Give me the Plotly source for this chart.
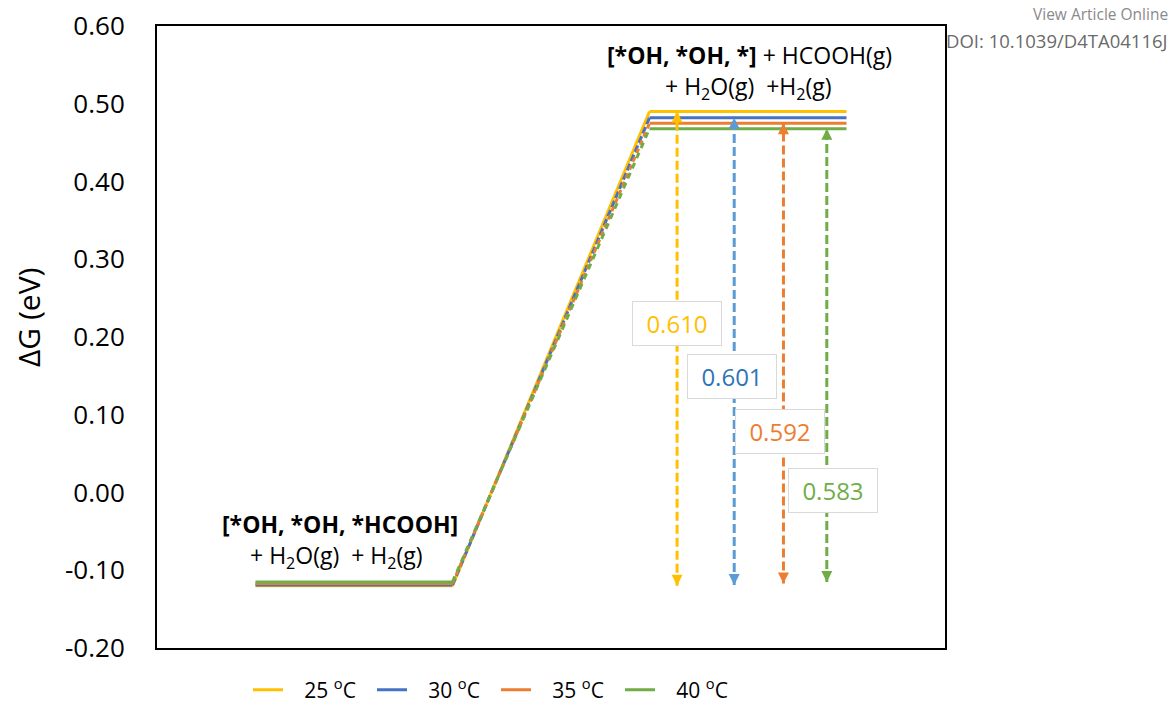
import plotly.graph_objects as go

# Free-energy profile: desorption of HCOOH from [*OH, *OH, *HCOOH] at four temperatures
temps = ["25", "30", "35", "40"]
g_initial = [-0.120, -0.119, -0.117, -0.115]   # eV, adsorbed HCOOH state
barriers = [0.610, 0.601, 0.592, 0.583]        # eV, desorption free energy
g_final = [round(a + b, 3) for a, b in zip(g_initial, barriers)]

level_x_initial = [0.5, 1.5]
level_x_final = [2.5, 3.5]
arrow_x = [2.64, 2.93, 3.18, 3.40]
label_x = [2.64, 2.92, 3.16, 3.43]
label_y = [0.218, 0.149, 0.078, 0.002]
y_ticks = [-0.2, -0.1, 0.0, 0.1, 0.2, 0.3, 0.4, 0.5, 0.6]

line_colors = ["#FFC000", "#4472C4", "#ED7D31", "#70AD47"]
arrow_colors = ["#FFC000", "#5B9BD5", "#ED7D31", "#70AD47"]
text_colors = ["#FFC000", "#2E75B6", "#ED7D31", "#70AD47"]
connector_dash = ["solid", "7px,3px", "5px,4px", "6px,5px"]

FONT = "Open Sans"
PLOT_L, PLOT_T, PLOT_W, PLOT_H = 157, 26, 788, 622
NBSP = "\u00a0"

fig = go.Figure()

# connectors between the two levels
for i in range(4):
    fig.add_trace(go.Scatter(
        x=[level_x_initial[1], level_x_final[0]],
        y=[g_initial[i], g_final[i]],
        mode="lines",
        line=dict(color=line_colors[i], width=3, dash=connector_dash[i]),
        showlegend=False, hoverinfo="skip"))

# energy levels
for i in range(4):
    fig.add_trace(go.Scatter(
        x=level_x_initial + [None] + level_x_final,
        y=[g_initial[i], g_initial[i], None, g_final[i], g_final[i]],
        mode="lines",
        line=dict(color=line_colors[i], width=3),
        name=f"{NBSP * 3}{temps[i]} <sup>o</sup>C"))

# double-headed dashed arrows marking each barrier
for i in range(4):
    fig.add_trace(go.Scatter(
        x=[arrow_x[i], arrow_x[i]],
        y=[g_initial[i], g_final[i]],
        mode="lines",
        line=dict(color=arrow_colors[i], width=3, dash="9px,4px"),
        showlegend=False, hoverinfo="skip"))
    fig.add_trace(go.Scatter(
        x=[arrow_x[i], arrow_x[i]],
        y=[g_initial[i], g_final[i]],
        mode="markers",
        marker=dict(symbol=["arrow-down", "arrow-up"], size=11,
                    color=arrow_colors[i], line=dict(width=0)),
        showlegend=False, hoverinfo="skip"))

# barrier value labels
for i in range(4):
    fig.add_annotation(
        x=label_x[i], y=label_y[i], xref="x", yref="y",
        text=f"{barriers[i]:.3f}", showarrow=False,
        font=dict(family=FONT, size=24, color=text_colors[i]),
        bgcolor="white", bordercolor="#D9D9D9", borderwidth=1,
        borderpad=0, width=88, height=43)

# state labels
state_text = [
    (0.93, -0.0405, "<b>[*OH, *OH, *HCOOH]</b>"),
    (0.91, -0.0817, "+ H<sub>2</sub>O(g)  + H<sub>2</sub>(g)"),
    (3.01, 0.5627, "<b>[*OH, *OH, *]</b> + HCOOH(g)"),
    (3.00, 0.5203, "+ H<sub>2</sub>O(g)  +H<sub>2</sub>(g)"),
]
for x, y, t in state_text:
    fig.add_annotation(x=x, y=y, xref="x", yref="y", text=t, showarrow=False,
                       font=dict(family=FONT, size=23, color="black"))

# y-axis title
fig.add_annotation(x=(28 - PLOT_L) / PLOT_W, y=(PLOT_T + PLOT_H - 318) / PLOT_H,
                   xref="paper", yref="paper", xanchor="center", yanchor="middle",
                   text="ΔG (eV)", textangle=-90,
                   showarrow=False, font=dict(family=FONT, size=30, color="black"))

# header text
hx = (1170 - PLOT_L) / PLOT_W
fig.add_annotation(x=hx, y=(PLOT_T + PLOT_H - 14) / PLOT_H, xref="paper", yref="paper",
                   xanchor="right", yanchor="middle", text="View Article Online",
                   showarrow=False, font=dict(family=FONT, size=15.5, color="#8A8A8A"))
fig.add_annotation(x=hx, y=(PLOT_T + PLOT_H - 40) / PLOT_H, xref="paper", yref="paper",
                   xanchor="right", yanchor="middle", text="DOI: 10.1039/D4TA04116J",
                   showarrow=False, font=dict(family=FONT, size=18.5, color="#6A6A6A"))

fig.update_xaxes(range=[0, 4], showline=True, linecolor="black", linewidth=2,
                 mirror=True, showticklabels=False, ticks="", showgrid=False,
                 zeroline=False)
fig.update_yaxes(range=[-0.2, 0.6], tickvals=y_ticks,
                 ticktext=[f"{v:.2f}" for v in y_ticks],
                 showline=True, linecolor="black", linewidth=2,
                 mirror=True, showgrid=False, zeroline=False,
                 ticks="outside", ticklen=25, tickcolor="rgba(0,0,0,0)",
                 tickfont=dict(family=FONT, size=26, color="black"))

fig.update_layout(
    width=1173, height=706,
    margin=dict(l=PLOT_L, r=1173 - PLOT_L - PLOT_W, t=PLOT_T,
                b=706 - PLOT_T - PLOT_H, autoexpand=False),
    paper_bgcolor="white", plot_bgcolor="white",
    font=dict(family=FONT),
    legend=dict(orientation="h", x=(248 - PLOT_L) / PLOT_W, xanchor="left",
                y=(PLOT_T + PLOT_H - 690) / PLOT_H, yanchor="middle",
                itemwidth=30, entrywidth=79, entrywidthmode="pixels",
                font=dict(family=FONT, size=21, color="black")),
)

fig.write_html("out.html")
